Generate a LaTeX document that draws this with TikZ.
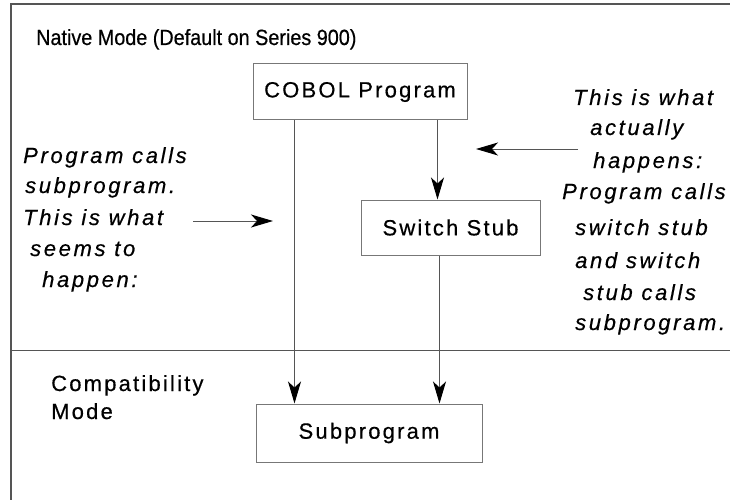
\documentclass[tikz,border=0pt]{standalone}
\usepackage{fontspec}
\setmainfont{Liberation Sans}
\newfontfamily\headfont{Liberation Sans}[FakeStretch=0.9,FakeBold=0.5]
\newfontfamily\boxfont{Liberation Sans}[LetterSpace=10,FakeBold=0.5]
\newfontfamily\notefont{Liberation Sans}[LetterSpace=12,FakeBold=0.5]
\usetikzlibrary{arrows.meta}

\definecolor{framegray}{HTML}{555555}
\definecolor{boxgray}{HTML}{777777}
\definecolor{linegray}{HTML}{555555}

\tikzset{
  box/.style={draw=boxgray, line width=1pt, inner sep=0pt, minimum height=56pt,
    font=\boxfont\fontsize{22}{26}\selectfont},
  link/.style={draw=linegray, line width=1pt,
    -{Stealth[length=22pt,width=13pt,inset=6pt,color=black]}},
  heading/.style={font=\headfont\fontsize{22}{26}\selectfont, anchor=base west, inner sep=0pt},
  modename/.style={font=\boxfont\fontsize{22}{26}\selectfont, anchor=base west, inner sep=0pt},
  sidenote/.style={font=\notefont\fontsize{22}{26}\selectfont\itshape, anchor=base west, inner sep=0pt},
}

\begin{document}
\begin{tikzpicture}[x=1pt,y=-1pt]
\useasboundingbox (0,0) rectangle (730,500);

% frame and mode divider
\draw[framegray, line width=1.5pt] (11,500) -- (11,4) -- (730,4);
\draw[framegray, line width=1pt] (11,350) -- (730,350);

% titles
\node[heading] (native) at (36,45) {Native Mode (Default on Series 900)};
\node[modename] (compat1) at (51,391) {Compatibility};
\node[modename] (compat2) at (51,419) {Mode};

% program boxes
\node[box, minimum width=214pt] (cobol) at (360,92) {COBOL Program};
\node[box, minimum width=179pt, minimum height=55pt] (stub) at (450.5,227.5) {Switch Stub};
\node[box, minimum width=226pt, minimum height=58pt] (sub) at (369,433) {Subprogram};

% left note
\node[sidenote] (l1) at (23,163) {Program calls};
\node[sidenote] (l2) at (25,193) {subprogram.};
\node[sidenote] (l3) at (23,225) {This is what};
\node[sidenote] (l4) at (30,256) {seems to};
\node[sidenote] (l5) at (42,287) {happen:};

% right note
\node[sidenote] (r1) at (573,105) {This is what};
\node[sidenote] (r2) at (590,135) {actually};
\node[sidenote] (r3) at (593,168) {happens:};
\node[sidenote] (r4) at (562,199) {Program calls};
\node[sidenote] (r5) at (575,235) {switch stub};
\node[sidenote] (r6) at (575,268) {and switch};
\node[sidenote] (r7) at (583,300) {stub calls};
\node[sidenote] (r8) at (575,330) {subprogram.};

% pointer arrows of the notes
\coordinate (lt) at (193,221);
\coordinate (lh) at (273,221);
\draw[link] (lt) -- (lh);
\coordinate (rt) at (578,149);
\coordinate (rh) at (476,149);
\draw[link] (rt) -- (rh);

% calls
\coordinate (c1) at ([xshift=42pt]cobol.south west);
\coordinate (c2) at ([xshift=185pt]cobol.south west);
\coordinate (s1) at ([xshift=79pt]stub.south west);
\draw[link] (c1) -- (c1 |- sub.north);
\draw[link] (c2) -- (c2 |- stub.north);
\draw[link] (s1) -- (s1 |- sub.north);
\end{tikzpicture}
\end{document}
